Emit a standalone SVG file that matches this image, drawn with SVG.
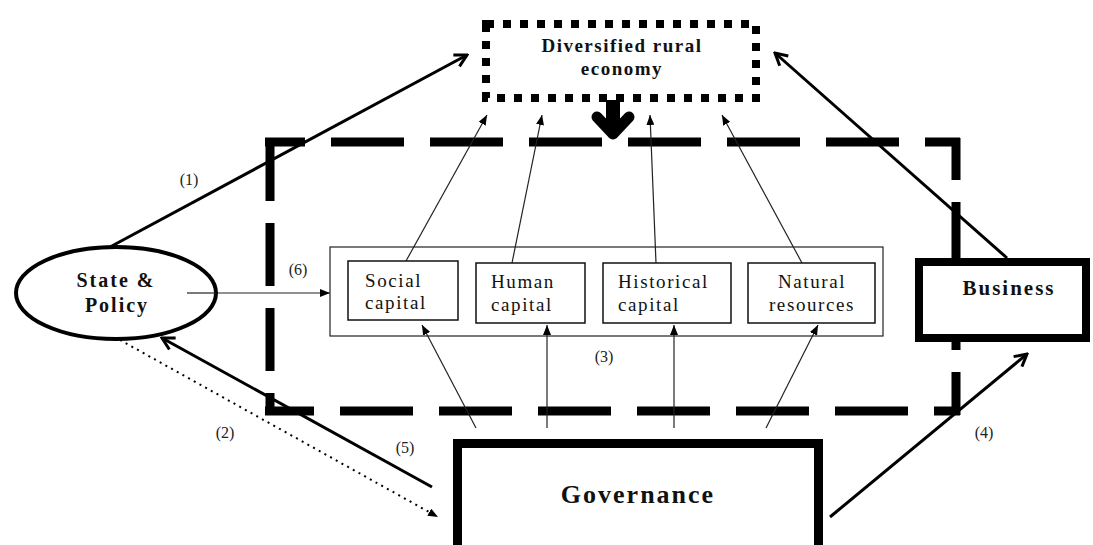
<svg xmlns="http://www.w3.org/2000/svg" width="1093" height="545" viewBox="0 0 1093 545">
<style>
.bold{font-family:"Liberation Serif","Times New Roman",serif;font-weight:bold;fill:#111;}
.cap{font-family:"Liberation Serif","Times New Roman",serif;font-size:19px;letter-spacing:1.6px;fill:#111;}
.lbl{font-family:"Liberation Serif","Times New Roman",serif;font-size:16px;fill:#222;text-anchor:middle;}
.thick{stroke:#000;stroke-width:3;fill:none;}
.thin{stroke:#222;stroke-width:1.2;fill:none;}
.dash{stroke:#000;stroke-width:9;fill:none;}
</style>
<defs>
<marker id="open" viewBox="0 0 16 16" markerWidth="16" markerHeight="16" refX="14" refY="8" orient="auto" markerUnits="userSpaceOnUse">
<path d="M2,1.5 L14,8 L2,14.5" fill="none" stroke="#000" stroke-width="3"/>
</marker>
<marker id="tri" viewBox="0 0 10 8" markerWidth="10" markerHeight="8" refX="10" refY="4" orient="auto" markerUnits="userSpaceOnUse">
<path d="M0,0 L10,4 L0,8 Z" fill="#000"/>
</marker>
</defs>
<rect width="1093" height="545" fill="#fff"/>

<g id="dashed-region">
<line class="dash" x1="265" y1="142" x2="960" y2="142" stroke-dasharray="73 26" stroke-dashoffset="33"/>
<line class="dash" x1="265" y1="411" x2="960" y2="411" stroke-dasharray="73 26" stroke-dashoffset="24"/>
<line class="dash" x1="270" y1="138" x2="270" y2="415" stroke-dasharray="63 22"/>
<line class="dash" x1="956" y1="138" x2="956" y2="415" stroke-dasharray="63 22" stroke-dashoffset="21"/>
</g>

<g id="connectors">
<line class="thick" x1="110" y1="247" x2="467" y2="55" marker-end="url(#open)"/>
<line class="thick" x1="1007" y1="258" x2="775" y2="53" marker-end="url(#open)"/>
<line class="thick" x1="830" y1="517" x2="1027" y2="354" marker-end="url(#open)"/>
<line class="thick" x1="432" y1="487" x2="162" y2="338" marker-end="url(#open)"/>
<line x1="120" y1="340" x2="438" y2="517" stroke="#000" stroke-width="2" stroke-dasharray="2 4.5" marker-end="url(#tri)"/>
<line class="thin" x1="187" y1="293" x2="330" y2="293" marker-end="url(#tri)"/>
<line class="thin" x1="406" y1="261" x2="487" y2="115" marker-end="url(#tri)"/>
<line class="thin" x1="512" y1="263" x2="542" y2="115" marker-end="url(#tri)"/>
<line class="thin" x1="656" y1="263" x2="650" y2="115" marker-end="url(#tri)"/>
<line class="thin" x1="802" y1="263" x2="722" y2="115" marker-end="url(#tri)"/>
<line class="thin" x1="476" y1="428" x2="422" y2="325" marker-end="url(#tri)"/>
<line class="thin" x1="547" y1="428" x2="547" y2="325" marker-end="url(#tri)"/>
<line class="thin" x1="674" y1="428" x2="674" y2="325" marker-end="url(#tri)"/>
<line class="thin" x1="766" y1="428" x2="818" y2="325" marker-end="url(#tri)"/>
<path d="M613,100 L613,126" stroke="#000" stroke-width="14" fill="none"/>
<polyline points="597,117 613,134 629,117" stroke="#000" stroke-width="11" fill="none" stroke-linejoin="round" stroke-linecap="round"/>
</g>

<g id="diversified-rural-economy">
<rect x="486" y="24" width="270" height="74" fill="none" stroke="#000" stroke-width="8" stroke-dasharray="8 9"/>
<text class="bold" x="622" y="52" font-size="19" letter-spacing="1.5" text-anchor="middle">Diversified rural</text>
<text class="bold" x="622" y="75" font-size="19" letter-spacing="1.5" text-anchor="middle">economy</text>
</g>

<g id="state-policy">
<ellipse cx="116" cy="293" rx="100" ry="46" fill="#fff" stroke="#000" stroke-width="4"/>
<text class="bold" x="116" y="287" font-size="20" letter-spacing="2" text-anchor="middle">State &amp;</text>
<text class="bold" x="117" y="312" font-size="20" letter-spacing="2" text-anchor="middle">Policy</text>
</g>
<line class="thin" x1="187" y1="293" x2="216" y2="293"/>

<g id="capitals">
<rect x="330" y="247" width="553" height="89" fill="none" stroke="#222" stroke-width="1.2"/>
</g>
<g id="social-capital">
<rect x="348" y="261" width="110" height="59" fill="#fff" stroke="#111" stroke-width="1.5"/>
<text class="cap" x="365" y="287">Social</text>
<text class="cap" x="365" y="309">capital</text>
</g>
<g id="human-capital">
<rect x="476" y="263" width="109" height="60" fill="#fff" stroke="#111" stroke-width="1.5"/>
<text class="cap" x="491" y="288">Human</text>
<text class="cap" x="491" y="311">capital</text>
</g>
<g id="historical-capital">
<rect x="603" y="263" width="128" height="60" fill="#fff" stroke="#111" stroke-width="1.5"/>
<text class="cap" x="618" y="288">Historical</text>
<text class="cap" x="618" y="311">capital</text>
</g>
<g id="natural-resources">
<rect x="748" y="263" width="127" height="60" fill="#fff" stroke="#111" stroke-width="1.5"/>
<text class="cap" x="812" y="288" text-anchor="middle">Natural</text>
<text class="cap" x="812" y="311" text-anchor="middle">resources</text>
</g>

<g id="business">
<rect x="919" y="262" width="167" height="76" fill="#fff" stroke="#000" stroke-width="8"/>
<text class="bold" x="1009" y="295" font-size="21" letter-spacing="2" text-anchor="middle">Business</text>
</g>

<g id="governance">
<rect x="457.5" y="443.5" width="361" height="120" fill="#fff" stroke="#000" stroke-width="9"/>
<text class="bold" x="638" y="503" font-size="26" letter-spacing="2" text-anchor="middle">Governance</text>
</g>

<g id="labels">
<text class="lbl" x="189" y="185">(1)</text>
<text class="lbl" x="225" y="438">(2)</text>
<text class="lbl" x="604" y="362">(3)</text>
<text class="lbl" x="984" y="438">(4)</text>
<text class="lbl" x="405" y="453">(5)</text>
<text class="lbl" x="298" y="275">(6)</text>
</g>
</svg>
